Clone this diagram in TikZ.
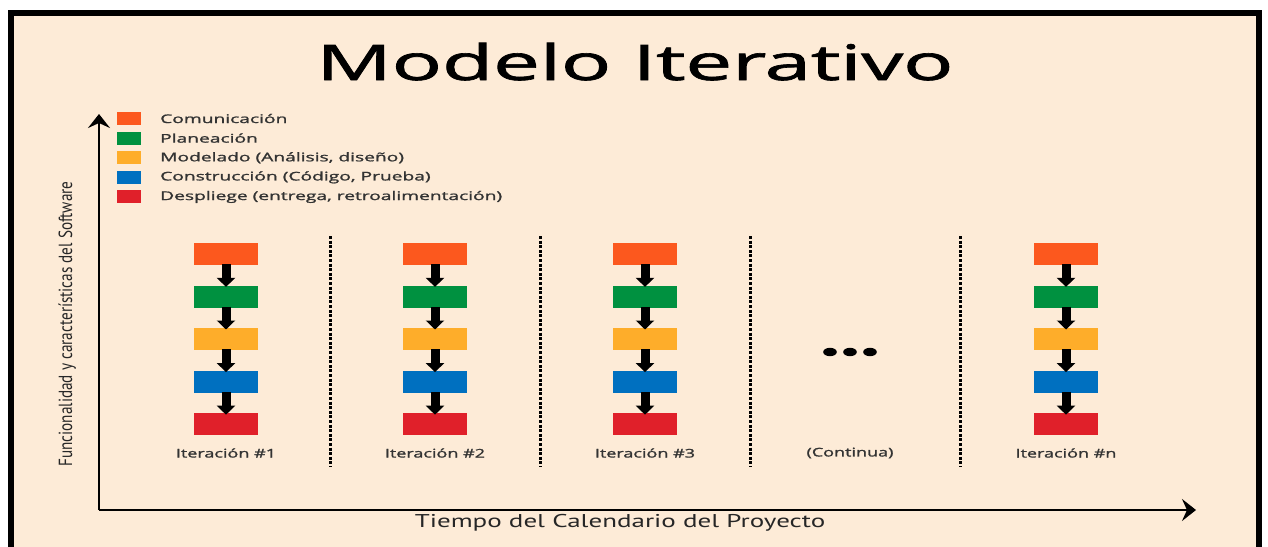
\documentclass[tikz,border=0pt]{standalone}
\usepackage{fontspec}
\setmainfont{Open Sans}
\newfontfamily\axfont{PT Sans}
\newfontfamily\semifont[FakeBold=1.2]{Open Sans}
\newfontfamily\titlefont[FakeBold=1.3]{Open Sans}
\usetikzlibrary{arrows.meta}
\definecolor{bg}{RGB}{253,235,215}
\definecolor{cOr}{RGB}{252,88,30}
\definecolor{cGr}{RGB}{0,145,64}
\definecolor{cYe}{RGB}{254,173,42}
\definecolor{cBl}{RGB}{0,112,192}
\definecolor{cRe}{RGB}{224,32,42}
\tikzset{
  stagebox/.style={minimum width=64pt,minimum height=22pt,inner sep=0pt,fill=#1},
  legsq/.style={minimum width=24pt,minimum height=13pt,inner sep=0pt,fill=#1},
  legtxt/.style={anchor=west,inner sep=0pt,font=\semifont\fontsize{12}{14}\selectfont,text=black!80},
  itlabel/.style={inner sep=0pt,font=\semifont\fontsize{12}{14}\selectfont,text=black!80},
  blockarrow/.style={line width=9pt,-{Triangle[width=18pt,length=9pt]}},
  axis/.style={line width=2.2pt,-{Stealth[length=14pt,width=22pt,inset=5pt]}},
  sep/.style={line width=3pt,dash pattern=on 3pt off 1.6pt}
}
\begin{document}
\begin{tikzpicture}[x=1pt,y=-1pt]
\useasboundingbox (0,0) rectangle (1268,546);
\fill[white] (0,0) rectangle (1268,546);
\fill[bg] (11,13) rectangle (1259,560);
\draw[line width=6pt] (11,600) -- (11,13) -- (1259,13) -- (1259,600);
% title
\node[inner sep=0pt,anchor=base,font=\titlefont\fontsize{49}{52}\selectfont] (title) at (635,80) {\scalebox{1.7}[1]{Modelo Iterativo}};
% axes
\coordinate (O) at (99,510);
\coordinate (Ytop) at (99,114);
\coordinate (Xend) at (1196,510);
\draw[axis] (O) -- (Ytop);
\draw[axis] (O) -- (Xend);
\node[inner sep=0pt,anchor=base,font=\axfont\fontsize{18.5}{22}\selectfont,text=black!85] (xlab) at (620,527) {\scalebox{1.46}[1]{Tiempo del Calendario del Proyecto}};
\node[inner sep=0pt,anchor=base,rotate=90,font=\axfont\fontsize{19}{22}\selectfont,text=black!85] (ylab) at (72,324) {\scalebox{0.8}[1]{Funcionalidad y características del Software}};
% legend
\foreach \c/\t [count=\i] in {cOr/Comunicación,cGr/Planeación,cYe/{Modelado (Análisis, diseño)},cBl/{Construcción (Código, Prueba)},cRe/{Despliege (entrega, retroalimentación)}}{
  \node[legsq=\c] (leg\i) at (129,{118.5+19.6*(\i-1)}) {};
  \node[legtxt] (legt\i) at (160,{118.5+19.6*(\i-1)}) {\scalebox{1.6}[1]{\t}};
}
% columns
\foreach \x/\lab [count=\k] in {226/{Iteración \#1},435/{Iteración \#2},645/{Iteración \#3},1066/{Iteración \#n}}{
  \foreach \c [count=\j] in {cOr,cGr,cYe,cBl,cRe}{
    \node[stagebox=\c] (b\k-\j) at (\x,{254+42.6*(\j-1)}) {};
  }
  \foreach \j [evaluate=\j as \n using int(\j+1)] in {1,2,3,4}{
    \draw[blockarrow] ([yshift=1pt]b\k-\j.south) -- ([yshift=-1.5pt]b\k-\n.north);
  }
  \node[itlabel] (it\k) at (\x,453) {\scalebox{1.5}[1]{\lab}};
}
% continua column
\node[itlabel] (cont) at (850,453) {\scalebox{1.5}[1]{(Continua)}};
\foreach \dx [count=\d] in {-20,0,20}{
  \fill (850+\dx,352) ellipse (6.8pt and 4.2pt);
}
% separators
\foreach \sx [count=\s] in {330,540,750,960}{
  \coordinate (st\s) at (\sx,236);
  \coordinate (sb\s) at (\sx,467);
  \draw[sep] (st\s) -- (sb\s);
}
\end{tikzpicture}
\end{document}
